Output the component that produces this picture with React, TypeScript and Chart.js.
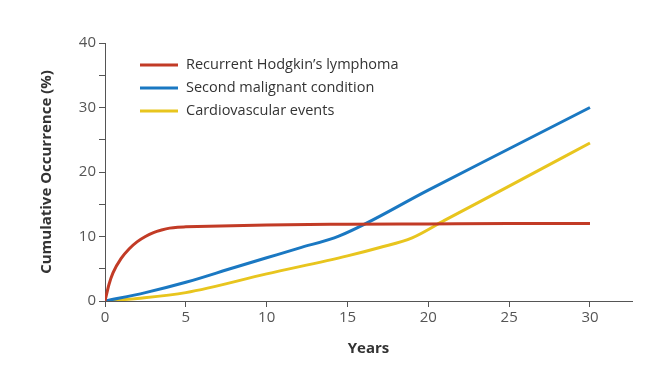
import React, { useEffect, useRef } from "react";
import { Chart, registerables } from "chart.js";

Chart.register(...registerables);

const seriesLabels = [
  "Recurrent Hodgkin\u2019s lymphoma",
  "Second malignant condition",
  "Cardiovascular events",
];
const seriesColors = ["#c23b26", "#1a78c2", "#e8c51e"];

const redYears = [0, 0.25, 0.5, 1, 1.5, 2, 2.5, 3, 3.5, 4, 4.5, 5, 10, 15, 20, 25, 30];
const redValues = [0, 2.6, 4.4, 6.6, 8.1, 9.2, 10.0, 10.6, 11.0, 11.3, 11.45, 11.5, 11.8, 11.9, 11.95, 12.0, 12.0];

const blueYears = [0, 2.5, 5, 8, 10, 12, 14.5, 20, 25, 30];
const blueValues = [0, 1.3, 2.9, 5.2, 6.7, 8.2, 10.1, 17.2, 23.6, 30.0];

const yellowYears = [0, 2, 5, 10, 15, 17, 19, 21, 25, 30];
const yellowValues = [0, 0.4, 1.3, 4.2, 7.0, 8.3, 9.8, 12.5, 17.8, 24.5];

const xTicks = [0, 5, 10, 15, 20, 25, 30];
const yLabelTicks = [0, 10, 20, 30, 40];

const FONT = "'Open Sans', 'Noto Sans', sans-serif";

const toPoints = (xs: number[], ys: number[]) => xs.map((x, i) => ({ x, y: ys[i] }));

const legendPlugin = {
  id: "insideLegend",
  afterDraw(chart: any) {
    const ctx = chart.ctx;
    ctx.save();
    chart.data.datasets.forEach((ds: any, i: number) => {
      const y = 65 + i * 23;
      ctx.strokeStyle = ds.borderColor;
      ctx.lineWidth = 3;
      ctx.beginPath();
      ctx.moveTo(140, y);
      ctx.lineTo(178, y);
      ctx.stroke();
      ctx.fillStyle = "#333";
      ctx.font = `14.5px ${FONT}`;
      ctx.textBaseline = "middle";
      ctx.textAlign = "left";
      ctx.fillText(ds.label, 186, y);
    });
    ctx.restore();
  },
};

export default function App() {
  const ref = useRef<HTMLCanvasElement>(null);
  useEffect(() => {
    if (!ref.current) return;
    const datasets = [
      toPoints(redYears, redValues),
      toPoints(blueYears, blueValues),
      toPoints(yellowYears, yellowValues),
    ].map((data, i) => ({
      label: seriesLabels[i],
      data,
      borderColor: seriesColors[i],
      backgroundColor: seriesColors[i],
      borderWidth: 3,
      pointRadius: 0,
      cubicInterpolationMode: "monotone" as const,
      fill: false,
    }));
    const chart = new Chart(ref.current, {
      type: "line",
      data: { datasets },
      plugins: [legendPlugin],
      options: {
        animation: false,
        responsive: false,
        maintainAspectRatio: false,
        layout: { padding: { left: 34, top: 43, right: 25, bottom: 0 } },
        plugins: { legend: { display: false }, tooltip: { enabled: false } },
        scales: {
          x: {
            type: "linear",
            min: 0,
            max: 32.6,
            afterBuildTicks: (scale: any) => {
              scale.ticks = xTicks.map((v) => ({ value: v }));
            },
            afterFit: (scale: any) => {
              scale.height = 77;
            },
            border: { color: "#555", width: 1 },
            grid: { drawOnChartArea: false, drawTicks: true, tickLength: 6, color: "#555" },
            ticks: {
              color: "#555",
              font: { family: FONT, size: 15 },
              padding: 2,
              maxRotation: 0,
              autoSkip: false,
            },
            title: {
              display: true,
              text: "Years",
              color: "#333",
              font: { family: FONT, size: 15, weight: "bold" },
              padding: { top: 0, bottom: 20 },
            },
          },
          y: {
            type: "linear",
            min: 0,
            max: 40,
            afterBuildTicks: (scale: any) => {
              const t = [];
              for (let v = 0; v <= 40; v += 5) t.push({ value: v });
              scale.ticks = t;
            },
            afterFit: (scale: any) => {
              scale.width = 71;
            },
            border: { color: "#555", width: 1 },
            grid: { drawOnChartArea: false, drawTicks: true, tickLength: 6, color: "#555" },
            ticks: {
              color: "#555",
              font: { family: FONT, size: 15 },
              padding: 3,
              autoSkip: false,
              callback: (v: any) => (yLabelTicks.includes(Number(v)) ? String(v) : ""),
            },
            title: {
              display: true,
              text: "Cumulative Occurrence (%)",
              color: "#333",
              font: { family: FONT, size: 15, weight: "bold" },
              padding: { top: 4, bottom: 4 },
            },
          },
        },
      },
    });
    return () => chart.destroy();
  }, []);
  return (
    <div style={{ position: "fixed", left: 0, top: 0, width: 657, height: 378, background: "#fff" }}>
      <canvas ref={ref} width={657} height={378} style={{ display: "block" }} />
    </div>
  );
}
